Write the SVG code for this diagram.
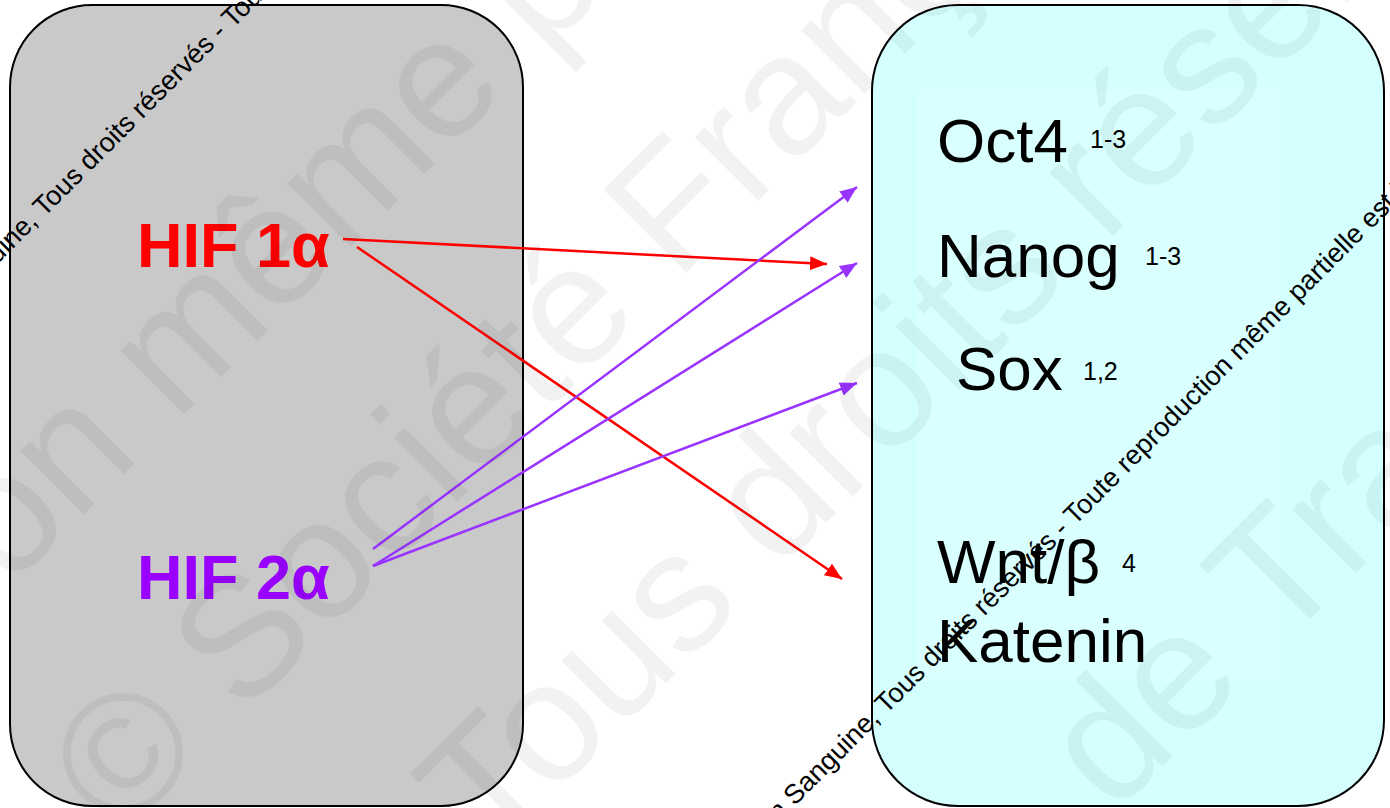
<svg xmlns="http://www.w3.org/2000/svg" width="1390" height="808" viewBox="0 0 1390 808">
  <defs>
    <style>
      .box { stroke: #000; stroke-width: 2; }
      .lbl { font-family: "Liberation Sans", Arial, Helvetica, sans-serif; }
      .hif { font-weight: bold; font-size: 63px; }
      .gene { font-size: 62px; fill: #000; }
      .ref { font-size: 25px; fill: #000; }
      .link { fill: none; stroke-width: 2.5; }
      .red { stroke: #ff0000; }
      .violet { stroke: #9933ff; }
      .wm-big { font-family: "Liberation Sans", Arial, sans-serif; font-size: 170px; fill: #000; fill-opacity: 0.05; }
      .wm-small { font-family: "Liberation Sans", Arial, sans-serif; font-size: 27.2px; fill: #000; }
    </style>
    <marker id="head-red" markerUnits="userSpaceOnUse" viewBox="0 0 17 14" markerWidth="17" markerHeight="14" refX="17" refY="7" orient="auto">
      <path d="M0,0 L17,7 L0,14 Z" fill="#ff0000"/>
    </marker>
    <marker id="head-violet" markerUnits="userSpaceOnUse" viewBox="0 0 17 14" markerWidth="17" markerHeight="14" refX="17" refY="7" orient="auto">
      <path d="M0,0 L17,7 L0,14 Z" fill="#9933ff"/>
    </marker>
  </defs>

  <rect x="0" y="0" width="1390" height="808" fill="#fff"/>

  <!-- left container: hypoxia-inducible factors -->
  <g id="hif-panel">
    <rect class="box" x="10" y="5" width="513" height="801" rx="82" ry="82" fill="#c9c9c9"/>
  </g>

  <!-- right container: pluripotency targets -->
  <g id="target-panel">
    <rect class="box" x="872" y="5" width="512" height="801" rx="86" ry="86" fill="#d4ffff"/>
    <rect x="917" y="90" width="363" height="592" fill="#d9ffff"/>
  </g>

  <g id="hif1a">
    <text class="lbl hif" x="137" y="267" fill="#ff0000">HIF 1α</text>
  </g>
  <g id="hif2a">
    <text class="lbl hif" x="137" y="599" fill="#9900ff">HIF 2α</text>
  </g>

  <g id="oct4">
    <text class="lbl gene" x="937" y="162">Oct4</text>
    <text class="lbl ref" x="1090" y="148">1-3</text>
  </g>
  <g id="nanog">
    <text class="lbl gene" x="937" y="277">Nanog</text>
    <text class="lbl ref" x="1145" y="265">1-3</text>
  </g>
  <g id="sox">
    <text class="lbl gene" x="956" y="390">Sox</text>
    <text class="lbl ref" x="1083" y="380">1,2</text>
  </g>
  <g id="wnt">
    <text class="lbl gene" x="937" y="583">Wnt/β</text>
    <text class="lbl ref" x="1122" y="572">4</text>
    <text class="lbl gene" x="937" y="662">Katenin</text>
  </g>

  <!-- connectors -->
  <g id="connectors">
    <line class="link red" x1="343" y1="239" x2="827" y2="264" marker-end="url(#head-red)"/>
    <line class="link red" x1="357" y1="247" x2="842" y2="579" marker-end="url(#head-red)"/>
    <line class="link violet" x1="373" y1="549" x2="857" y2="187" marker-end="url(#head-violet)"/>
    <line class="link violet" x1="373" y1="566" x2="857" y2="263" marker-end="url(#head-violet)"/>
    <line class="link violet" x1="373" y1="566" x2="857" y2="383" marker-end="url(#head-violet)"/>
  </g>

  <!-- faint copyright overlay -->
  <g id="overlay-large" transform="rotate(-45)">
    <text class="wm-big" x="-1630" y="423">Toute reproduction même partielle est interdite</text>
    <text class="wm-big" x="-508" y="678">© Société Française de Transfusion Sanguine</text>
    <text class="wm-big" x="-261" y="954">Tous droits réservés</text>
    <text class="wm-big" x="211" y="1364">de Transfusion Sanguine</text>
  </g>

  <!-- small copyright lines -->
  <g id="overlay-small" transform="rotate(-45)">
    <text class="wm-small" x="-401" y="185">Transfusion Sanguine, Tous droits réservés - Toute reproduction même partielle est interdite</text>
    <text class="wm-small" x="-157" y="1132">Transfusion Sanguine, Tous droits réservés - Toute reproduction même partielle est interdite</text>
  </g>
</svg>
